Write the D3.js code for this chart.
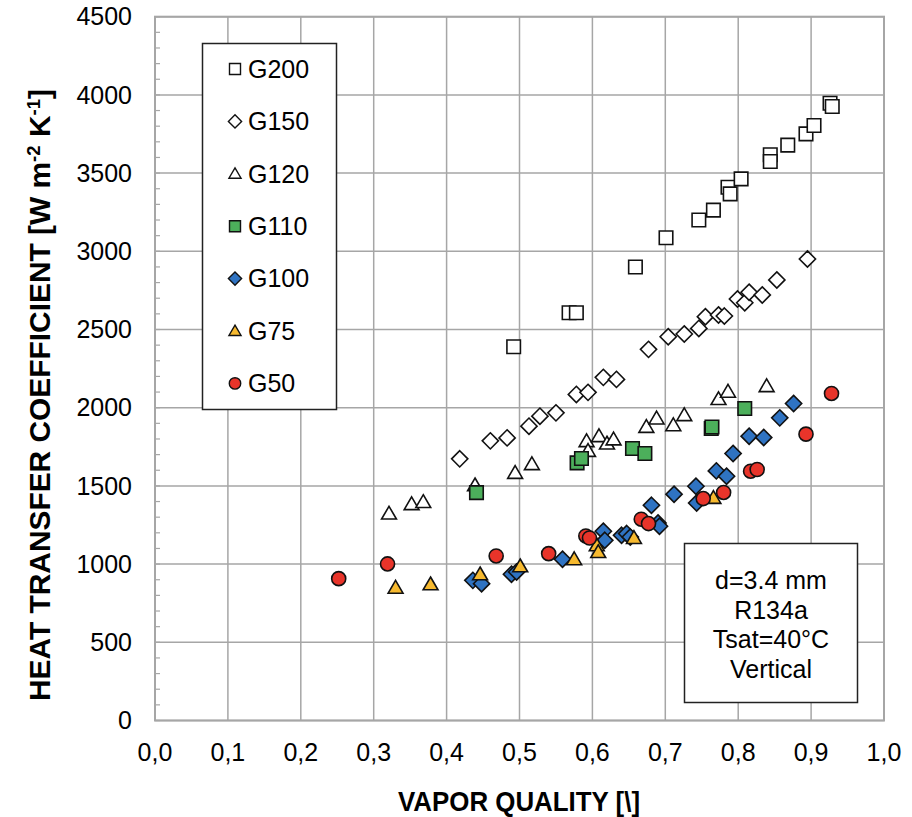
<!DOCTYPE html>
<html>
<head>
<meta charset="utf-8">
<style>
  body { margin: 0; background: #fff; }
  text { font-family: "Liberation Sans", Arial, sans-serif; fill: #000; }
  .title { font-family: "Liberation Sans Narrow", "Arial Narrow", "Liberation Sans", sans-serif; font-weight: bold; }
</style>
</head>
<body>
<svg></svg>
<script src="https://d3js.org/d3.v7.min.js"></script>
<script>

// vapor quality x, heat transfer coefficient h [W m-2 K-1]
const g200 = [[0.492,2390],[0.568,2607],[0.578,2607],[0.659,2900],[0.701,3087],[0.746,3200],[0.766,3263],
  [0.786,3410],[0.789,3367],[0.804,3463],[0.844,3617],[0.844,3574],[0.868,3679],[0.893,3751],[0.904,3804],
  [0.926,3947],[0.929,3926]];
const g150 = [[0.418,1673],[0.460,1788],[0.483,1807],[0.513,1882],[0.528,1946],[0.550,1967],[0.578,2085],
  [0.594,2098],[0.615,2194],[0.633,2181],[0.677,2373],[0.704,2454],[0.726,2471],[0.746,2507],[0.755,2582],
  [0.773,2593],[0.781,2586],[0.799,2695],[0.809,2671],[0.815,2738],[0.833,2721],[0.853,2817],[0.895,2951]];
const g120 = [[0.321,1323],[0.352,1383],[0.368,1397],[0.439,1504],[0.494,1583],[0.517,1639],[0.592,1786],
  [0.594,1724],[0.609,1818],[0.620,1771],[0.629,1797],[0.674,1877],[0.688,1931],[0.711,1888],[0.726,1952],
  [0.773,2055],[0.786,2102],[0.839,2138]];
const g110 = [[0.441,1457],[0.579,1647],[0.585,1675],[0.655,1739],[0.672,1707],[0.763,1867],[0.764,1877],
  [0.809,1995]];
const g100 = [[0.436,896],[0.448,875],[0.489,935],[0.496,950],[0.559,1031],[0.615,1210],[0.617,1152],
  [0.640,1184],[0.647,1195],[0.652,1173],[0.681,1376],[0.690,1263],[0.692,1242],[0.712,1447],[0.742,1498],
  [0.743,1391],[0.770,1596],[0.784,1562],[0.793,1707],[0.815,1818],[0.835,1810],[0.857,1935],[0.876,2027]];
const g75 = [[0.330,849],[0.378,871],[0.446,935],[0.501,986],[0.575,1031],[0.606,1120],[0.608,1077],
  [0.657,1167],[0.766,1423]];
const g50 = [[0.252,907],[0.319,1001],[0.468,1052],[0.540,1067],[0.591,1180],[0.596,1167],[0.667,1287],
  [0.677,1259],[0.752,1419],[0.780,1458],[0.817,1594],[0.826,1605],[0.893,1831],[0.928,2091]];

const seriesNames = ["G200", "G150", "G120", "G110", "G100", "G75", "G50"];
const seriesData = [g200, g150, g120, g110, g100, g75, g50];
const seriesShape = ["square", "diamond", "triangle", "square", "diamond", "triangle", "circle"];
const seriesFill = ["#ffffff", "#ffffff", "#ffffff", "#4caf5b", "#2f73c2", "#f6b92f", "#e8342a"];

const xTicks = d3.range(0, 1.0001, 0.1);
const yTicks = d3.range(0, 4501, 500);
const infoLines = ["d=3.4 mm", "R134a", "Tsat=40°C", "Vertical"];

const width = 912, height = 817;
const x = d3.scaleLinear().domain([0, 1]).range([155, 884]);
const y = d3.scaleLinear().domain([0, 4500]).range([720.5, 16.7]);

const svg = d3.select("svg")
    .attr("width", width)
    .attr("height", height)
    .attr("viewBox", [0, 0, width, height]);

svg.append("rect").attr("width", width).attr("height", height).attr("fill", "#fff");

const grid = "#a6a6a6";

// grid
svg.append("g").selectAll("line").data(xTicks).join("line")
    .attr("x1", d => x(d)).attr("x2", d => x(d))
    .attr("y1", y(0)).attr("y2", y(4500))
    .attr("stroke", grid).attr("stroke-width", 1.5);
svg.append("g").selectAll("line").data(yTicks).join("line")
    .attr("x1", x(0)).attr("x2", x(1))
    .attr("y1", d => y(d)).attr("y2", d => y(d))
    .attr("stroke", grid).attr("stroke-width", 1.5);

// minor ticks on y axis
svg.append("g").selectAll("line").data(d3.range(0, 4501, 100)).join("line")
    .attr("x1", x(0)).attr("x2", x(0) + 5)
    .attr("y1", d => y(d)).attr("y2", d => y(d))
    .attr("stroke", grid).attr("stroke-width", 1.2);

svg.append("rect")
    .attr("x", x(0)).attr("y", y(4500))
    .attr("width", x(1) - x(0)).attr("height", y(0) - y(4500))
    .attr("fill", "none").attr("stroke", grid).attr("stroke-width", 2);

// tick labels
const fmt = d3.format(".1f");
svg.append("g").selectAll("text").data(xTicks).join("text")
    .attr("x", d => x(d)).attr("y", 752).attr("dy", "0.35em")
    .attr("text-anchor", "middle").attr("font-size", 25)
    .text(d => fmt(d).replace(".", ","));
svg.append("g").selectAll("text").data(yTicks).join("text")
    .attr("x", 132).attr("y", d => y(d)).attr("dy", "0.35em")
    .attr("text-anchor", "end").attr("font-size", 25)
    .text(d => d);

// axis titles
svg.append("text").attr("class", "title")
    .attr("x", 519).attr("y", 811)
    .attr("text-anchor", "middle").attr("font-size", 28)
    .attr("textLength", 242).attr("lengthAdjust", "spacingAndGlyphs")
    .text("VAPOR QUALITY [\\]");

const yt = svg.append("text").attr("class", "title")
    .attr("transform", "translate(50,395) rotate(-90)")
    .attr("text-anchor", "middle").attr("font-size", 29)
    .attr("textLength", 612).attr("lengthAdjust", "spacingAndGlyphs");
yt.append("tspan").text("HEAT TRANSFER COEFFICIENT [W m");
yt.append("tspan").attr("font-size", 18).attr("dy", -10).text("-2");
yt.append("tspan").attr("dy", 10).text(" K");
yt.append("tspan").attr("font-size", 18).attr("dy", -10).text("-1");
yt.append("tspan").attr("dy", 10).text("]");

// marker shapes
function shape(type, s) {
  const p = d3.path();
  if (type === "square") {
    p.rect(-s / 2, -s / 2, s, s);
  } else if (type === "diamond") {
    const r = s * 0.6;
    p.moveTo(0, -r); p.lineTo(r, 0); p.lineTo(0, r); p.lineTo(-r, 0); p.closePath();
  } else if (type === "triangle") {
    const h = s * 0.9;
    p.moveTo(0, -h * 0.6); p.lineTo(s * 0.55, h * 0.45); p.lineTo(-s * 0.55, h * 0.45); p.closePath();
  } else {
    p.arc(0, 0, s * 0.52, 0, 2 * Math.PI);
  }
  return p.toString();
}

seriesData.forEach((data, i) => {
  svg.append("g").selectAll("path").data(data).join("path")
    .attr("transform", d => `translate(${x(d[0])},${y(d[1])})`)
    .attr("d", shape(seriesShape[i], 13.5))
    .attr("fill", seriesFill[i])
    .attr("stroke", "#111")
    .attr("stroke-width", 1.6);
});

// legend
const lg = svg.append("g");
lg.append("rect").attr("x", 202.5).attr("y", 43.5).attr("width", 134).attr("height", 366)
    .attr("fill", "#fff").attr("stroke", "#222").attr("stroke-width", 1.5);
seriesNames.forEach((name, i) => {
  const cy = 69 + i * 52.4;
  lg.append("path")
    .attr("transform", `translate(235,${cy})`)
    .attr("d", shape(seriesShape[i], 11))
    .attr("fill", seriesFill[i]).attr("stroke", "#111").attr("stroke-width", 1.4);
  lg.append("text").attr("x", 248).attr("y", cy).attr("dy", "0.35em")
    .attr("font-size", 25).text(name);
});

// info box
const ib = svg.append("g");
ib.append("rect").attr("x", 684.5).attr("y", 543.5).attr("width", 173).attr("height", 159)
    .attr("fill", "#fff").attr("stroke", "#222").attr("stroke-width", 1.5);
ib.selectAll("text").data(infoLines).join("text")
    .attr("x", 771).attr("y", (d, i) => 589 + i * 29.6)
    .attr("text-anchor", "middle").attr("font-size", 25)
    .text(d => d);

</script>
</body>
</html>
